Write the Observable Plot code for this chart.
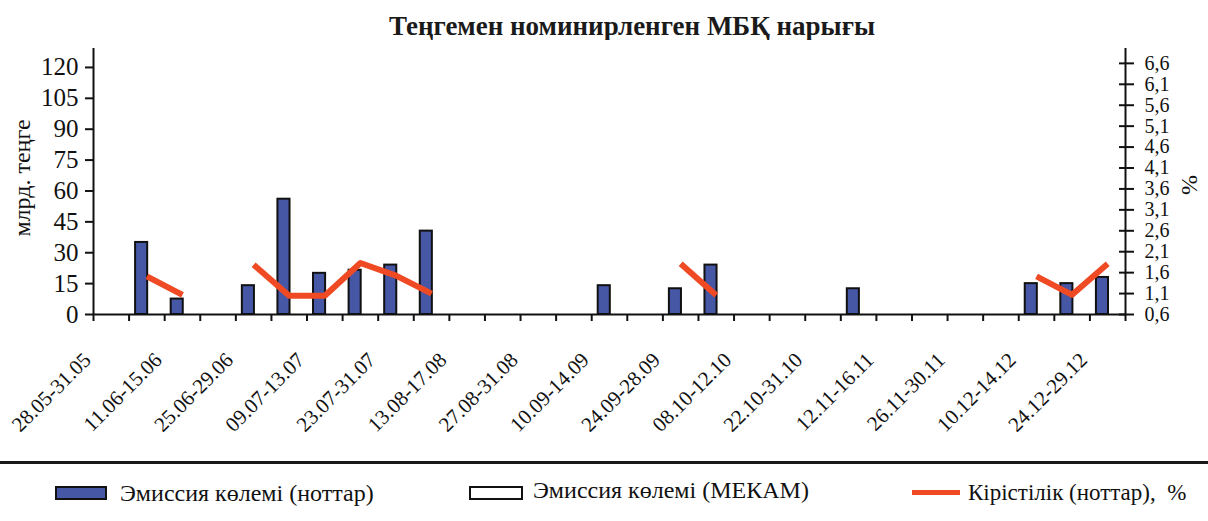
<!DOCTYPE html>
<html><head><meta charset="utf-8">
<script src="https://cdn.jsdelivr.net/npm/d3@7"></script>
<script src="https://cdn.jsdelivr.net/npm/@observablehq/plot@0.6"></script>
<style>
body{margin:0;background:#fff;font-family:"Liberation Serif","Times New Roman",serif;color:#111;}
#wrap{position:relative;width:1208px;height:521px;overflow:hidden;background:#fff;}
#title{position:absolute;left:0;top:10px;width:1208px;padding-left:56px;box-sizing:border-box;text-align:center;font-weight:bold;font-size:27px;line-height:32px;color:#1a1a1a;}
#chart{position:absolute;left:0;top:40px;}
#chart svg, #chart svg text{font-family:"Liberation Serif","Times New Roman",serif !important;}
.rot{position:absolute;white-space:nowrap;font-size:24px;line-height:24px;}
#sep{position:absolute;left:0;top:461px;width:1208px;height:3px;background:#1a1a1a;}
.sw{position:absolute;box-sizing:border-box;}
.lt{position:absolute;font-size:24px;line-height:24px;white-space:pre;}
</style></head><body>
<div id="wrap">
  <div id="title">Теңгемен номинирленген МБҚ нарығы</div>
  <div id="chart"></div>
  <div class="rot" style="left:22px;top:178px;transform:translate(-50%,-50%) rotate(-90deg);">млрд. теңге</div>
  <div class="rot" style="left:1190px;top:185px;transform:translate(-50%,-50%) rotate(90deg);">%</div>
  <div id="sep"></div>
  <div class="sw" style="left:55px;top:486px;width:52px;height:14px;background:#4657a6;border:2px solid #111;"></div>
  <div class="lt" style="left:120px;top:481px;">Эмиссия көлемі (ноттар)</div>
  <div class="sw" style="left:469px;top:486px;width:54px;height:14px;background:#fff;border:2px solid #111;"></div>
  <div class="lt" style="left:533px;top:478px;">Эмиссия көлемі (МЕКАМ)</div>
  <div class="sw" style="left:912px;top:490px;width:48px;height:5px;background:#ef4a24;"></div>
  <div class="lt" style="left:968px;top:481px;font-size:23px;">Кірістілік (ноттар),  %</div>
</div>
<script>
// Categories (weekly periods)
const periods = [
  "28.05-31.05","04.06-08.06","11.06-15.06","18.06-22.06","25.06-29.06",
  "02.07-06.07","09.07-13.07","16.07-20.07","23.07-31.07","01.08-10.08",
  "13.08-17.08","20.08-24.08","27.08-31.08","03.09-07.09","10.09-14.09",
  "17.09-21.09","24.09-28.09","01.10-05.10","08.10-12.10","15.10-19.10",
  "22.10-31.10","01.11-09.11","12.11-16.11","19.11-23.11","26.11-30.11",
  "03.12-07.12","10.12-14.12","17.12-21.12","24.12-29.12"
];
// Labelled categories on the x axis
const xTickLabels = ["28.05-31.05","11.06-15.06","25.06-29.06","09.07-13.07","23.07-31.07",
  "13.08-17.08","27.08-31.08","10.09-14.09","24.09-28.09","08.10-12.10","22.10-31.10",
  "12.11-16.11","26.11-30.11","10.12-14.12","24.12-29.12"];
// Issue volume (notes), bn tenge
const notesVolume = [null,35,7.5,null,14,56,20,21.5,24,40.5,
  null,null,null,null,14,null,12.5,24,null,null,
  null,12.5,null,null,null,null,15,15,18];
// Issue volume (MEKAM), bn tenge
const mekamVolume = [0,0,0,0,0,0,0,0,0,0,0,0,0,0,0,0,0,0,0,0,0,0,0,0,0,0,0,0,0];
// Yield (notes), %
const yieldPct = [null,1.51,1.07,null,1.79,1.05,1.05,1.83,1.53,1.10,
  null,null,null,null,null,null,1.81,1.06,null,null,
  null,null,null,null,null,null,1.51,1.07,1.81];
// Axis ticks
const leftTicks = [0,15,30,45,60,75,90,105,120];
const rightTicks = [0.6,1.1,1.6,2.1,2.6,3.1,3.6,4.1,4.6,5.1,5.6,6.1,6.6];

const W = 1208, H = 420, mL = 93, mR = 83, mT = 8, mB = 146;
const bw = (W - mL - mR) / periods.length;
const yMax = 129.2;          // left axis top
const k = 20.33;             // left-axis units per 1 % on the right axis
const rightMin = 0.6;
const toLeft = v => (v - rightMin) * k;
const fmtRight = v => (v / k + rightMin).toFixed(1).replace(".", ",");

const rows = periods.map((p, i) => ({
  period: p,
  notes: notesVolume[i],
  mekam: mekamVolume[i],
  yld: yieldPct[i] == null ? NaN : toLeft(yieldPct[i])
}));

const ink = "#111";
const serif = "'Liberation Serif','Times New Roman',serif";
const chart = Plot.plot({
  width: W, height: H,
  marginLeft: mL, marginRight: mR, marginTop: mT, marginBottom: mB,
  style: {fontFamily: serif, fontSize: "24px", color: ink, background: "#fff"},
  x: {type: "band", domain: periods, padding: 0, round: false},
  y: {domain: [0, yMax]},
  marks: [
    Plot.barY(rows.filter(d => d.notes != null), {x: "period", y: "notes", fill: "#4657a6", stroke: ink, strokeWidth: 2, insetLeft: 6.5, insetRight: 17}),
    Plot.ruleY([0], {stroke: ink, strokeWidth: 2}),
    Plot.ruleX([periods[0]], {dx: -bw / 2, stroke: ink, strokeWidth: 2}),
    Plot.ruleX([periods[periods.length - 1]], {dx: bw / 2, stroke: ink, strokeWidth: 2}),
    Plot.axisX({ticks: periods, tickSize: 7, tickFormat: () => "", dx: -bw / 2, strokeWidth: 2, label: null}),
    Plot.axisX({ticks: [periods[periods.length - 1]], tickSize: 7, tickFormat: () => "", dx: bw / 2, strokeWidth: 2, label: null}),
    Plot.axisX({ticks: xTickLabels, tickSize: 0, tickRotate: -45, tickPadding: 0, dx: -24, dy: 42, fontSize: 21, fontFamily: serif, label: null}),
    Plot.axisY({ticks: leftTicks, anchor: "left", tickSize: 8, tickPadding: 7, strokeWidth: 2, fontSize: 25, fontFamily: serif, label: null}),
    Plot.axisY({ticks: rightTicks.map(toLeft), tickFormat: fmtRight, anchor: "right", tickSize: 15, tickPadding: 11, dx: -7, strokeWidth: 2, fontSize: 20, fontFamily: serif, label: null}),
    Plot.line(rows, {x: "period", y: "yld", stroke: "#ef4a24", strokeWidth: 6, strokeLinecap: "butt", strokeLinejoin: "round"})
  ]
});
document.getElementById("chart").appendChild(chart);
</script>
</body></html>
